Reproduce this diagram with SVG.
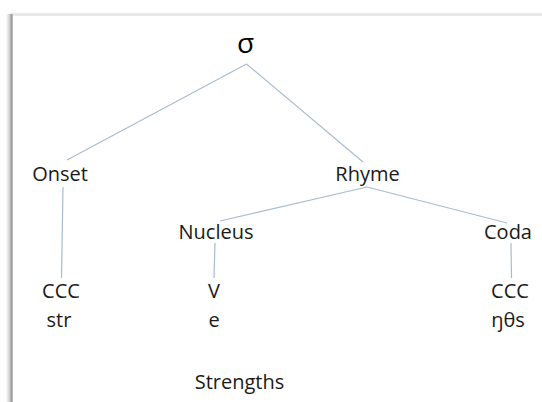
<svg xmlns="http://www.w3.org/2000/svg" width="542" height="402" viewBox="0 0 542 402">
<defs>
<linearGradient id="lshadow" x1="0" y1="0" x2="1" y2="0">
<stop offset="0" stop-color="#ffffff"/>
<stop offset="0.5" stop-color="#d0d0d0"/>
<stop offset="0.8" stop-color="#9a9a9a"/>
<stop offset="1" stop-color="#c8c8c8"/>
</linearGradient>
<linearGradient id="tshadow" x1="0" y1="0" x2="0" y2="1">
<stop offset="0" stop-color="#ffffff"/>
<stop offset="0.6" stop-color="#e4e4e4"/>
<stop offset="1" stop-color="#ececec"/>
</linearGradient>
</defs>
<style>
.t{font-family:"Open Sans","Liberation Sans",sans-serif;font-size:20px;fill:#1a1a1a;text-anchor:middle}
.sig{font-size:28px;fill:#000}
.c{stroke:#a9bccf;stroke-width:1.2;fill:none}
</style>
<rect width="542" height="402" fill="#ffffff"/>
<g id="frame">
<rect x="10" y="12" width="532" height="4" fill="url(#tshadow)"/>
<rect x="6" y="14" width="7" height="388" fill="url(#lshadow)"/>
</g>
<g id="connectors">
<line class="c" x1="246.5" y1="64" x2="67" y2="160"/>
<line class="c" x1="246.5" y1="64" x2="363" y2="162"/>
<line class="c" x1="63" y1="187" x2="61.5" y2="278"/>
<line class="c" x1="367" y1="187" x2="220" y2="221"/>
<line class="c" x1="367" y1="187" x2="507" y2="223"/>
<line class="c" x1="215" y1="243" x2="214" y2="278"/>
<line class="c" x1="511" y1="243" x2="511.5" y2="278"/>
</g>
<g id="sigma"><text class="t sig" x="245.5" y="53">σ</text></g>
<g id="onset"><text class="t" x="60" y="181">Onset</text></g>
<g id="rhyme"><text class="t" x="367.5" y="181">Rhyme</text></g>
<g id="nucleus"><text class="t" x="216" y="239">Nucleus</text></g>
<g id="coda"><text class="t" x="508" y="239">Coda</text></g>
<g id="onset-seg"><text class="t" x="61" y="298">CCC</text><text class="t" x="59" y="327">str</text></g>
<g id="nucleus-seg"><text class="t" x="214" y="298">V</text><text class="t" x="214" y="327">e</text></g>
<g id="coda-seg"><text class="t" x="510" y="298">CCC</text><text class="t" x="508" y="327">ŋθs</text></g>
<g id="caption"><text class="t" x="239.5" y="389">Strengths</text></g>
</svg>
